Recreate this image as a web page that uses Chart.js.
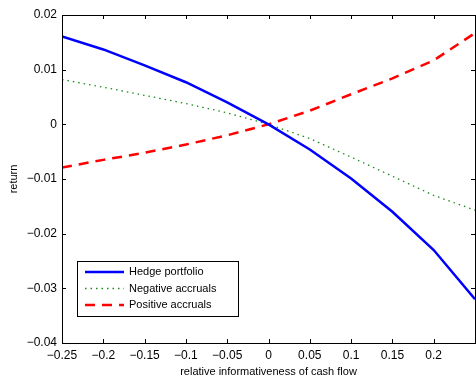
<!DOCTYPE html>
<html>
<head>
<meta charset="utf-8">
<script src="https://cdn.jsdelivr.net/npm/chart.js@4/dist/chart.umd.min.js"></script>
<style>
  html, body { margin: 0; padding: 0; background: #fff; overflow: hidden; }
  #wrap { position: relative; width: 480px; height: 379px; }
</style>
</head>
<body>
<div id="wrap"><canvas id="c"></canvas></div>
<script>
// data
const xValues = [-0.25, -0.2, -0.15, -0.1, -0.05, 0, 0.05, 0.1, 0.15, 0.2, 0.25];
const hedge = [0.0161, 0.0137, 0.0108, 0.0077, 0.0040, 0, -0.0046, -0.0099, -0.0160, -0.0230, -0.0320];
const negAccruals = [0.0082, 0.0068, 0.0053, 0.0038, 0.0021, 0, -0.0026, -0.0060, -0.0095, -0.0130, -0.0157];
const posAccruals = [-0.0079, -0.0065, -0.0052, -0.0037, -0.0020, 0, 0.0025, 0.0055, 0.0084, 0.0117, 0.0167];
const seriesNames = ['Hedge portfolio', 'Negative accruals', 'Positive accruals'];

const FONT = 'Liberation Sans, Arial, Helvetica, sans-serif';

function pts(ys) {
    return xValues.map((x, i) => ({ x: x, y: ys[i] }));
}

function fmt(v) {
    const r = Math.round(v * 100) / 100;
    if (r === 0) return '0';
    return (r < 0 ? '\u2212' : '') + String(Math.abs(r));
}

// box, inward ticks (matlab style) and the legend box
const matlabAxes = {
    id: 'matlabAxes',
    afterDraw(chart) {
        const ctx = chart.ctx;
        const a = chart.chartArea;
        const xs = chart.scales.x, ys = chart.scales.y;
        ctx.save();
        ctx.strokeStyle = '#000';
        ctx.lineWidth = 1;
        ctx.strokeRect(a.left + 0.5, a.top + 0.5, a.right - a.left, a.bottom - a.top);
        ctx.beginPath();
        xs.ticks.forEach(t => {
            const px = Math.round(xs.getPixelForValue(t.value)) + 0.5;
            ctx.moveTo(px, a.bottom); ctx.lineTo(px, a.bottom - 4);
            ctx.moveTo(px, a.top); ctx.lineTo(px, a.top + 4);
        });
        ys.ticks.forEach(t => {
            const py = Math.round(ys.getPixelForValue(t.value)) + 0.5;
            ctx.moveTo(a.left, py); ctx.lineTo(a.left + 4, py);
            ctx.moveTo(a.right, py); ctx.lineTo(a.right - 4, py);
        });
        ctx.stroke();

        // legend
        const lx = 77, ly = 261, lw = 161, lh = 55;
        ctx.fillStyle = '#fff';
        ctx.fillRect(lx, ly, lw, lh);
        ctx.strokeRect(lx + 0.5, ly + 0.5, lw, lh);
        ctx.font = '11px ' + FONT;
        ctx.textBaseline = 'middle';
        chart.data.datasets.forEach((ds, i) => {
            const y = ly + 11 + i * 16.5;
            ctx.beginPath();
            ctx.strokeStyle = ds.borderColor;
            ctx.lineWidth = ds.borderWidth;
            ctx.setLineDash(ds.borderDash || []);
            ctx.moveTo(85, y); ctx.lineTo(124, y);
            ctx.stroke();
            ctx.setLineDash([]);
            ctx.fillStyle = '#000';
            ctx.fillText(ds.label, 129, y);
        });
        ctx.restore();
    }
};

new Chart(document.getElementById('c'), {
    type: 'line',
    data: {
        datasets: [
            { label: seriesNames[0], data: pts(hedge), borderColor: '#0000ff', borderWidth: 2.5, pointRadius: 0, tension: 0 },
            { label: seriesNames[1], data: pts(negAccruals), borderColor: '#1a8c1a', borderWidth: 1.3, borderDash: [1.5, 4], pointRadius: 0, tension: 0 },
            { label: seriesNames[2], data: pts(posAccruals), borderColor: '#ff0000', borderWidth: 2.5, borderDash: [10, 7], pointRadius: 0, tension: 0 }
        ]
    },
    options: {
        responsive: true,
        maintainAspectRatio: false,
        animation: false,
        layout: { padding: { top: 15, right: 1, left: 0, bottom: 0 } },
        plugins: { legend: { display: false }, tooltip: { enabled: false } },
        scales: {
            x: {
                type: 'linear',
                min: -0.25,
                max: 0.25,
                grid: { display: false, drawTicks: false },
                border: { display: false },
                ticks: {
                    stepSize: 0.05,
                    color: '#000',
                    font: { family: FONT, size: 12 },
                    padding: 5,
                    maxRotation: 0,
                    autoSkip: false,
                    callback: v => Math.abs(v - 0.25) < 1e-9 ? '' : fmt(v)
                },
                title: {
                    display: true,
                    text: 'relative informativeness of cash flow',
                    color: '#000',
                    font: { family: FONT, size: 11 },
                    padding: { top: 0, bottom: 0 }
                },
                afterFit(s) { s.height = 36; }
            },
            y: {
                min: -0.04,
                max: 0.02,
                grid: { display: false, drawTicks: false },
                border: { display: false },
                ticks: {
                    stepSize: 0.01,
                    color: '#000',
                    font: { family: FONT, size: 12 },
                    padding: 5,
                    callback: v => fmt(v)
                },
                title: {
                    display: true,
                    text: 'return',
                    color: '#000',
                    font: { family: FONT, size: 11 },
                    padding: { top: 7.5, bottom: 0 }
                },
                afterFit(s) { s.width = 62; }
            }
        }
    },
    plugins: [matlabAxes]
});
</script>
</body>
</html>
